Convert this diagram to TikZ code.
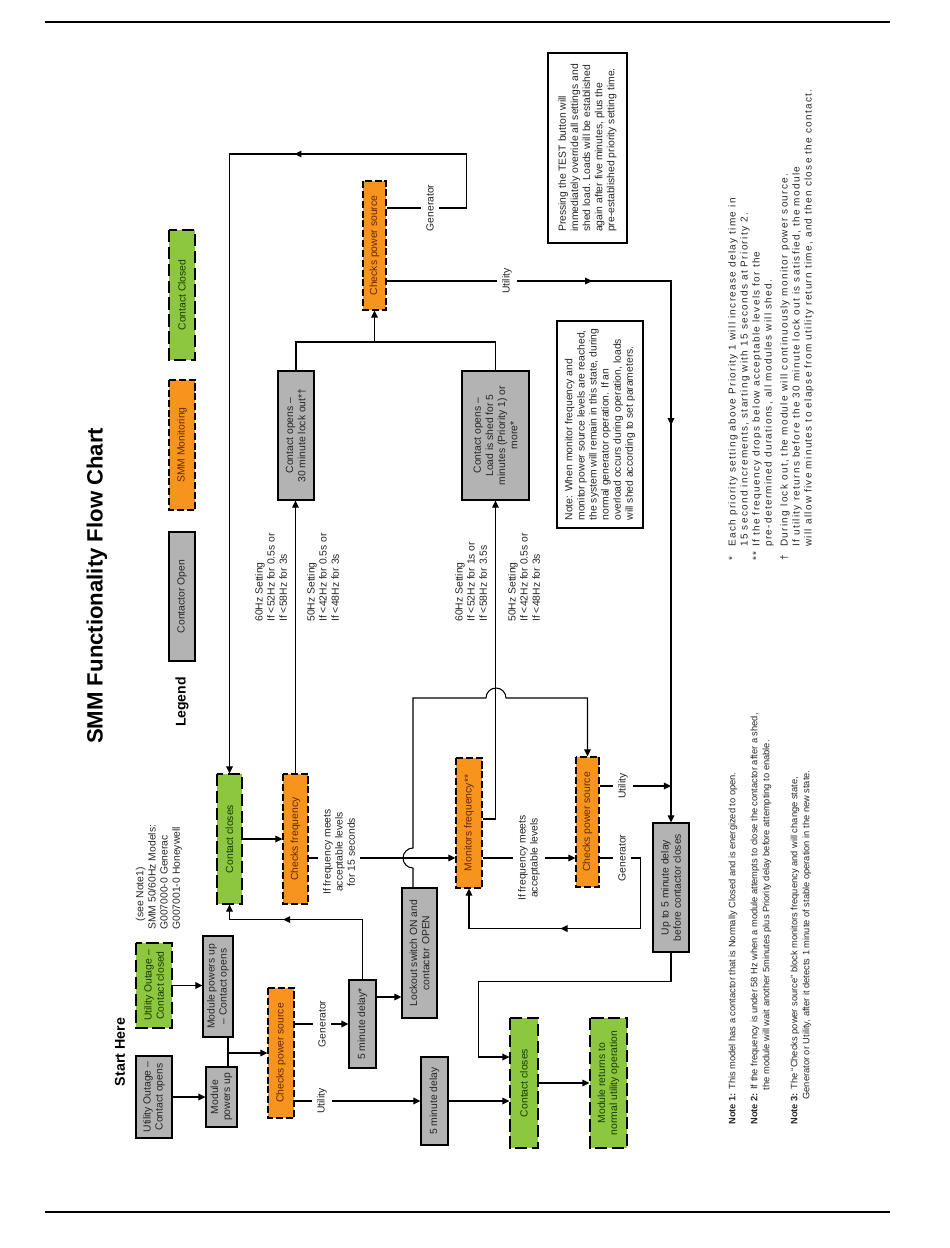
\documentclass[tikz,border=0pt]{standalone}
\usepackage{fontspec}
\setmainfont{Liberation Sans}
\newfontfamily\widefont{Liberation Sans}[LetterSpace=13]
\usetikzlibrary{arrows.meta,calc,decorations.markings}

\definecolor{boxgray}{RGB}{179,179,179}
\definecolor{monorange}{RGB}{247,148,29}
\definecolor{closedgreen}{RGB}{141,198,63}
\definecolor{montext}{RGB}{100,40,10}
\definecolor{closedtext}{RGB}{25,60,0}
\newcommand{\chartfont}{\fontsize{5.9}{6.9}\selectfont}
\newcommand{\notefont}{\fontsize{5.3}{6.8}\selectfont}
\newcommand{\starfont}{\widefont\fontsize{5.7}{6.8}\selectfont}

\begin{document}
\begin{tikzpicture}[
  x=0.02cm, y=-0.02cm,
  every node/.style={font=\chartfont, text=black!85},
  box/.style={rotate=90, inner sep=1pt, align=center, line width=0.6pt},
  sz/.style 2 args={minimum width=#1*0.02cm, minimum height=#2*0.02cm},
  openbox/.style={box, draw=black, fill=boxgray, text=black!85},
  monbox/.style={box, draw=black, dash pattern=on 4pt off 1.6pt, fill=monorange, text=montext},
  closedbox/.style={box, draw=black, dash pattern=on 7pt off 2.6pt, fill=closedgreen, text=closedtext},
  notebox/.style={box, draw=black, fill=white, align=left},
  lbl/.style={rotate=90, fill=white, inner xsep=1pt, inner ysep=3pt, align=center},
  txt/.style={rotate=90, anchor=west, align=left, inner sep=0pt},
  wire/.style={line width=0.6pt},
  arr/.style={wire, -{Triangle[length=4pt,width=3.8pt]}},
  midarrow/.style={postaction={decorate}, decoration={markings, mark=at position #1 with {\arrow{Triangle[length=4pt,width=3.8pt]}}}}
]
\useasboundingbox (0,0) rectangle (950,1248);

% page rules
\coordinate (ruleTL) at (45,22);
\coordinate (ruleTR) at (890,22);
\coordinate (ruleBL) at (45,1212);
\coordinate (ruleBR) at (890,1212);
\draw[line width=0.8pt] (ruleTL) -- (ruleTR);
\draw[line width=0.8pt] (ruleBL) -- (ruleBR);

% headings
\node[rotate=90, anchor=west, font=\bfseries\fontsize{12.6}{15}\selectfont, text=black] (title) at (97,750) {SMM Functionality Flow Chart};
\node[rotate=90, font=\bfseries\fontsize{8.1}{10}\selectfont, text=black] (start) at (120,1052) {Start Here};
\node[rotate=90, font=\bfseries\fontsize{8}{10}\selectfont, text=black] (legend) at (182,702) {Legend};

% legend
\node[closedbox, sz={130}{26}] (lgClosed) at (182,295) {Contact Closed};
\node[monbox, sz={130}{26}] (lgMon) at (182,445) {SMM Monitoring};
\node[openbox, sz={129}{26}] (lgOpen) at (182,596.5) {Contactor Open};

\node[txt] (models) at (159,930) {\hspace*{0.8em}(see Note1)\\SMM 50/60Hz Models:\\G007000-0 Generac\\G007001-0 Honeywell};

% start column
\node[openbox, sz={82}{36}] (outOpen) at (154,1097) {Utility Outage --\\Contact opens};
\node[closedbox, sz={85}{36}] (outClosed) at (154,985.5) {Utility Outage --\\Contact closed};
\node[openbox, sz={60}{31}] (modUp) at (221.5,1097) {Module\\powers up};
\node[openbox, sz={101}{30}] (modOpen) at (218,986.5) {Module powers up\\-- Contact opens};
\node[monbox, sz={130}{26}] (cps1) at (281,1053) {Checks power source};
\node[openbox, sz={88}{27}] (dly1) at (362.5,1024) {5 minute delay*};
\node[openbox, sz={88}{27}] (dly2) at (434.5,1101) {5 minute delay};
\node[openbox, sz={130}{35}] (lock) at (419.5,953) {Lockout switch ON and\\contactor OPEN};

% main chain
\node[closedbox, sz={130}{25}] (cc1) at (229.5,839) {Contact closes};
\node[monbox, sz={130}{25}] (cf1) at (295.5,839) {Checks frequency};
\node[openbox, sz={129}{36}] (lo30) at (296,435.5) {Contact opens --\\30 minute lock out*\textdagger};
\node[openbox, sz={129}{67}] (load) at (495.5,435.5) {Contact opens --\\Load is shed for 5\\minutes (Priority 1) or\\more*};
\node[monbox, sz={129}{23}] (cps3) at (374.5,245.5) {Checks power source};
\node[monbox, sz={130}{26}] (mf) at (469,823) {Monitors frequency**};
\node[monbox, sz={130}{23}] (cps2) at (587.5,822) {Checks power source};
\node[openbox, sz={129}{36}] (up5) at (671,887.5) {Up to 5 minute delay\\before contactor closes};
\node[closedbox, sz={130}{28}] (cc2) at (524,1083) {Contact closes};
\node[closedbox, sz={130}{37}] (mr) at (608.5,1083) {Module returns to\\normal utility operation};

% frequency settings
\node[txt] (hz60a) at (271,622) {60Hz Setting\\If <52Hz for 0.5s or\\If <58Hz for 3s};
\node[txt] (hz50a) at (323,622) {50Hz Setting\\If <42Hz for 0.5s or\\If <48Hz for 3s};
\node[txt] (hz60b) at (471,622) {60Hz Setting\\If <52Hz for 1s or\\If <58Hz for 3.5s};
\node[txt] (hz50b) at (524,622) {50Hz Setting\\If <42Hz for 0.5s or\\If <48Hz for 3s};

% side notes
\node[notebox, sz={207}{86}] (noteBox) at (600,424.5) {Note: When monitor frequency and\\monitor power source levels are reached,\\the system will remain in this state, during\\normal generator operation. If an\\overload occurs during operation, loads\\will shed according to set parameters.};
\node[notebox, sz={190}{79}] (testBox) at (587.5,148) {Pressing the TEST button will\\immediately override all settings and\\shed load. Loads will be established\\again after five minutes, plus the\\pre-established priority setting time.};

% connectors
\draw[arr] (outOpen.south) -- (modUp.north);
\draw[arr] (outClosed.south) -- (outClosed.south -| modOpen.north);
\coordinate (j1) at ([xshift=0.13cm]modUp.east);
\draw[wire] (j1) -- (j1 |- modOpen.west);
\draw[arr] (j1 |- cps1.north) -- (cps1.north);
\draw[arr] (cps1.south |- dly1.north) -- (dly1.north);
\draw[arr] (cps1.south |- dly2.north) -- (dly2.north);
\coordinate (j2) at ([yshift=0.54cm]dly1.south);
\draw[arr] (j2) -- (j2 -| lock.north);
\draw[arr, midarrow=0.67] (dly1.east) |- ([yshift=-0.3cm]cc1.west) -- (cc1.west);
\draw[arr] (cc1.south) -- (cf1.north);
\draw[arr] (cf1.east) -- (cf1.east |- lo30.west);
\draw[wire] (lo30.east) |- (load.east |- 0,342) -- (load.east);
\draw[arr] (cps3.west |- 0,342) -- (cps3.west);
\draw[arr, midarrow=0.309] ([yshift=0.75cm]cps3.south) -- ++(80,0) |- (cc1.east |- 0,154) -- (cc1.east);
\draw[arr, postaction={decorate}, decoration={markings,
    mark=at position 0.249 with {\arrow{Triangle[length=4pt,width=3.8pt]}},
    mark=at position 0.519 with {\arrow{Triangle[length=4pt,width=3.8pt]}}}]
  ([yshift=-0.71cm]cps3.south) -| (up5.east);
\coordinate (j3) at ([yshift=-0.38cm]cf1.south);
\draw[arr] (j3) -- (j3 -| mf.north);
\draw[arr] ([yshift=0.08cm]mf.south) -| (load.west);
\coordinate (j4) at ([yshift=-0.7cm]mf.south);
\draw[arr] (j4) -- (j4 -| cps2.north);
\coordinate (j5) at ([yshift=0.72cm]cps2.south);
\draw[arr] (j5) -- (j5 -| up5.east);
\coordinate (j6) at ([yshift=-0.72cm]cps2.south);
\draw[arr, midarrow=0.593] (j6) -- ++(41,0) |- ([yshift=-0.8cm]mf.west) -- (mf.west);
\coordinate (k1) at ([xshift=-0.13cm]lock.east);
\draw[arr] (k1) -- (413,868) arc[start angle=270, end angle=90, radius=0.2cm] -- (413,698)
  -- (486,698) arc[start angle=180, end angle=0, radius=0.2cm] -| (cps2.east);
\draw[arr] (up5.west) -- ++(0,29) -| ([xshift=-0.62cm, yshift=0.52cm]cc2.north) -- ([yshift=0.52cm]cc2.north);
\draw[arr] (dly2.south) -- (dly2.south -| cc2.north);
\draw[arr] (cc2.south) -- (mr.north);

% connector labels
\node[lbl] (genA) at (322,1024) {Generator};
\node[lbl] (utilA) at (322,1101) {Utility};
\node[lbl] (genB) at (430,208) {Generator};
\node[lbl] (utilB) at (507,281) {Utility};
\node[lbl] (utilC) at (623,786) {Utility};
\node[lbl] (genC) at (622,858) {Generator};
\node[lbl] (freqA) at (339,852) {If frequency meets\\acceptable levels\\for 15 seconds};
\node[lbl] (freqB) at (529,858) {If frequency meets\\acceptable levels};

% footnotes
\node[txt, font=\starfont] (fnA) at (739,561) {\makebox[8pt][l]{*}Each priority setting above Priority 1 will increase delay time in\\\hspace*{8pt}15 second increments, starting with 15 seconds at Priority 2.};
\node[txt, font=\starfont] (fnB) at (763,561) {\makebox[8pt][l]{**}If the frequency drops below acceptable levels for the\\\hspace*{8pt}pre-determined durations, all modules will shed.};
\node[txt, font=\starfont] (fnC) at (797,561) {\makebox[8pt][l]{\textdagger}During lock out, the module will continuously monitor power source.\\\hspace*{8pt}If utility returns before the 30 minute lock out is satisfied, the module\\\hspace*{8pt}will allow five minutes to elapse from utility return time, and then close the contact.};

\node[txt, font=\notefont] (note1) at (733,1125) {\textbf{Note 1:} This model has a contactor that is Normally Closed and is energized to open.};
\node[txt, font=\notefont] (note2) at (761,1125) {\textbf{Note 2:} If the frequency is under 58 Hz when a module attempts to close the contactor after a shed,\\\hspace*{3.7em}the module will wait another 5minutes plus Priority delay before attempting to enable.};
\node[txt, font=\notefont] (note3) at (801,1125) {\textbf{Note 3:} The ``Checks power source'' block monitors frequency and will change state,\\\hspace*{2.7em}Generator or Utility, after it detects 1 minute of stable operation in the new state.};

\end{tikzpicture}
\end{document}
